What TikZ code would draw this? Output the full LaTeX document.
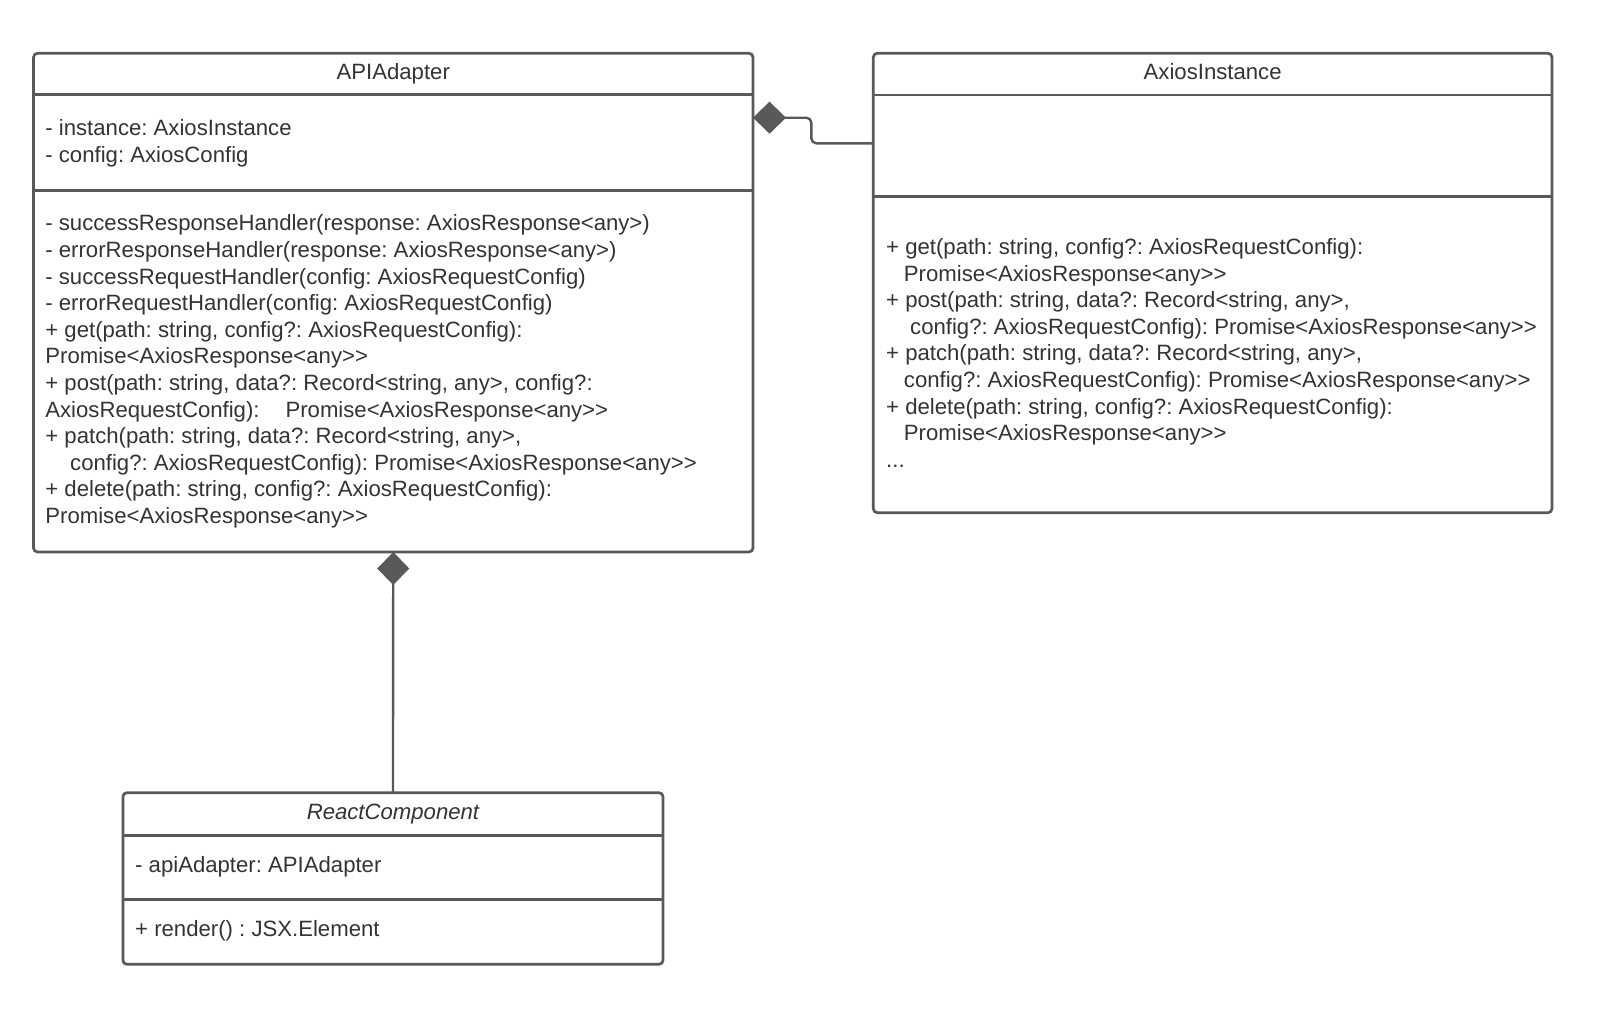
\documentclass[tikz,border=0pt]{standalone}
\usepackage{fontspec}
\setmainfont{Liberation Sans}[Ligatures=TeXOff]
\usetikzlibrary{arrows.meta}
\definecolor{linecol}{RGB}{89,89,89}
\definecolor{txtcol}{RGB}{51,51,51}
\frenchspacing
\begin{document}
\begin{tikzpicture}[x=1pt,y=-1pt,
  classbox/.style={draw=linecol, line width=2.7pt, rounded corners=4pt, inner sep=0pt, outer sep=0pt, anchor=north west},
  divider/.style={draw=linecol, line width=2.7pt},
  txt/.style={text=txtcol, inner sep=0pt, font=\fontsize{22.15}{26.6}\selectfont},
  member/.style={txt, align=left, anchor=west},
  title/.style={txt, anchor=base},
  comp/.style={draw=linecol, line width=2.4pt, -{Diamond[length=33pt,width=32pt,fill=linecol]}}
]
\useasboundingbox (0,0) rectangle (1600,1009);

% class boxes
\node[classbox, minimum width=719.5pt, minimum height=498.7pt] (api) at (33.5,53.3) {};
\node[classbox, minimum width=678.7pt, minimum height=459.4pt] (axios) at (873.3,53.3) {};
\node[classbox, minimum width=540.1pt, minimum height=171.6pt] (react) at (122.9,792.7) {};

% divider levels
\coordinate (ya1) at (0,94.3);
\coordinate (ya2) at (0,190.7);
\coordinate (yb1) at (0,95);
\coordinate (yb2) at (0,196.7);
\coordinate (yc1) at (0,835.7);
\coordinate (yc2) at (0,899.3);
\draw[divider] (api.west |- ya1) -- (api.east |- ya1);
\draw[divider] (api.west |- ya2) -- (api.east |- ya2);
\draw[divider] (axios.west |- yb1) -- (axios.east |- yb1);
\draw[divider] (axios.west |- yb2) -- (axios.east |- yb2);
\draw[divider] (react.west |- yc1) -- (react.east |- yc1);
\draw[divider] (react.west |- yc2) -- (react.east |- yc2);

% APIAdapter texts
\node[title] (apiT) at (393.25,79) {APIAdapter};
\node[member] (apiA) at (45.2,143) {- instance: AxiosInstance\\- config: AxiosConfig};
\node[member] (apiM) at (45.2,371.5) {- successResponseHandler(response: AxiosResponse<any>)\\
- errorResponseHandler(response: AxiosResponse<any>)\\
- successRequestHandler(config: AxiosRequestConfig)\\
- errorRequestHandler(config: AxiosRequestConfig)\\
+ get(path: string, config?: AxiosRequestConfig):\\
Promise<AxiosResponse<any>>\\
+ post(path: string, data?: Record<string, any>, config?:\\
AxiosRequestConfig):\hspace*{26pt}Promise<AxiosResponse<any>>\\
+ patch(path: string, data?: Record<string, any>,\\
\hspace*{24.8pt}config?: AxiosRequestConfig): Promise<AxiosResponse<any>>\\
+ delete(path: string, config?: AxiosRequestConfig):\\
Promise<AxiosResponse<any>>};

% AxiosInstance texts
\node[title] (axT) at (1212.65,79) {AxiosInstance};
\node[member] (axM) at (886,352.9) {+ get(path: string, config?: AxiosRequestConfig):\\
\hspace*{17.75pt}Promise<AxiosResponse<any>>\\
+ post(path: string, data?: Record<string, any>,\\
\hspace*{24pt}config?: AxiosRequestConfig): Promise<AxiosResponse<any>>\\
+ patch(path: string, data?: Record<string, any>,\\
\hspace*{17.75pt}config?: AxiosRequestConfig): Promise<AxiosResponse<any>>\\
+ delete(path: string, config?: AxiosRequestConfig):\\
\hspace*{17.75pt}Promise<AxiosResponse<any>>\\
...};

% ReactComponent texts
\node[title] (rcT) at (392.95,819.6) {\itshape ReactComponent};
\node[txt, anchor=base west] (rcA) at (135,872.7) {- apiAdapter: APIAdapter};
\node[txt, anchor=base west] (rcM) at (135,936.7) {+ render() : JSX.Element};

% connectors
\coordinate (c1a) at (0,143.3);
\coordinate (c1b) at (0,117.7);
\coordinate (bend) at (811.3,0);
\draw[comp, rounded corners=5pt] (axios.west |- c1a) -- (bend |- c1a) -- (bend |- c1b) -- (api.east |- c1b);
\draw[comp] (react.north) -- (api.south);
\end{tikzpicture}
\end{document}
